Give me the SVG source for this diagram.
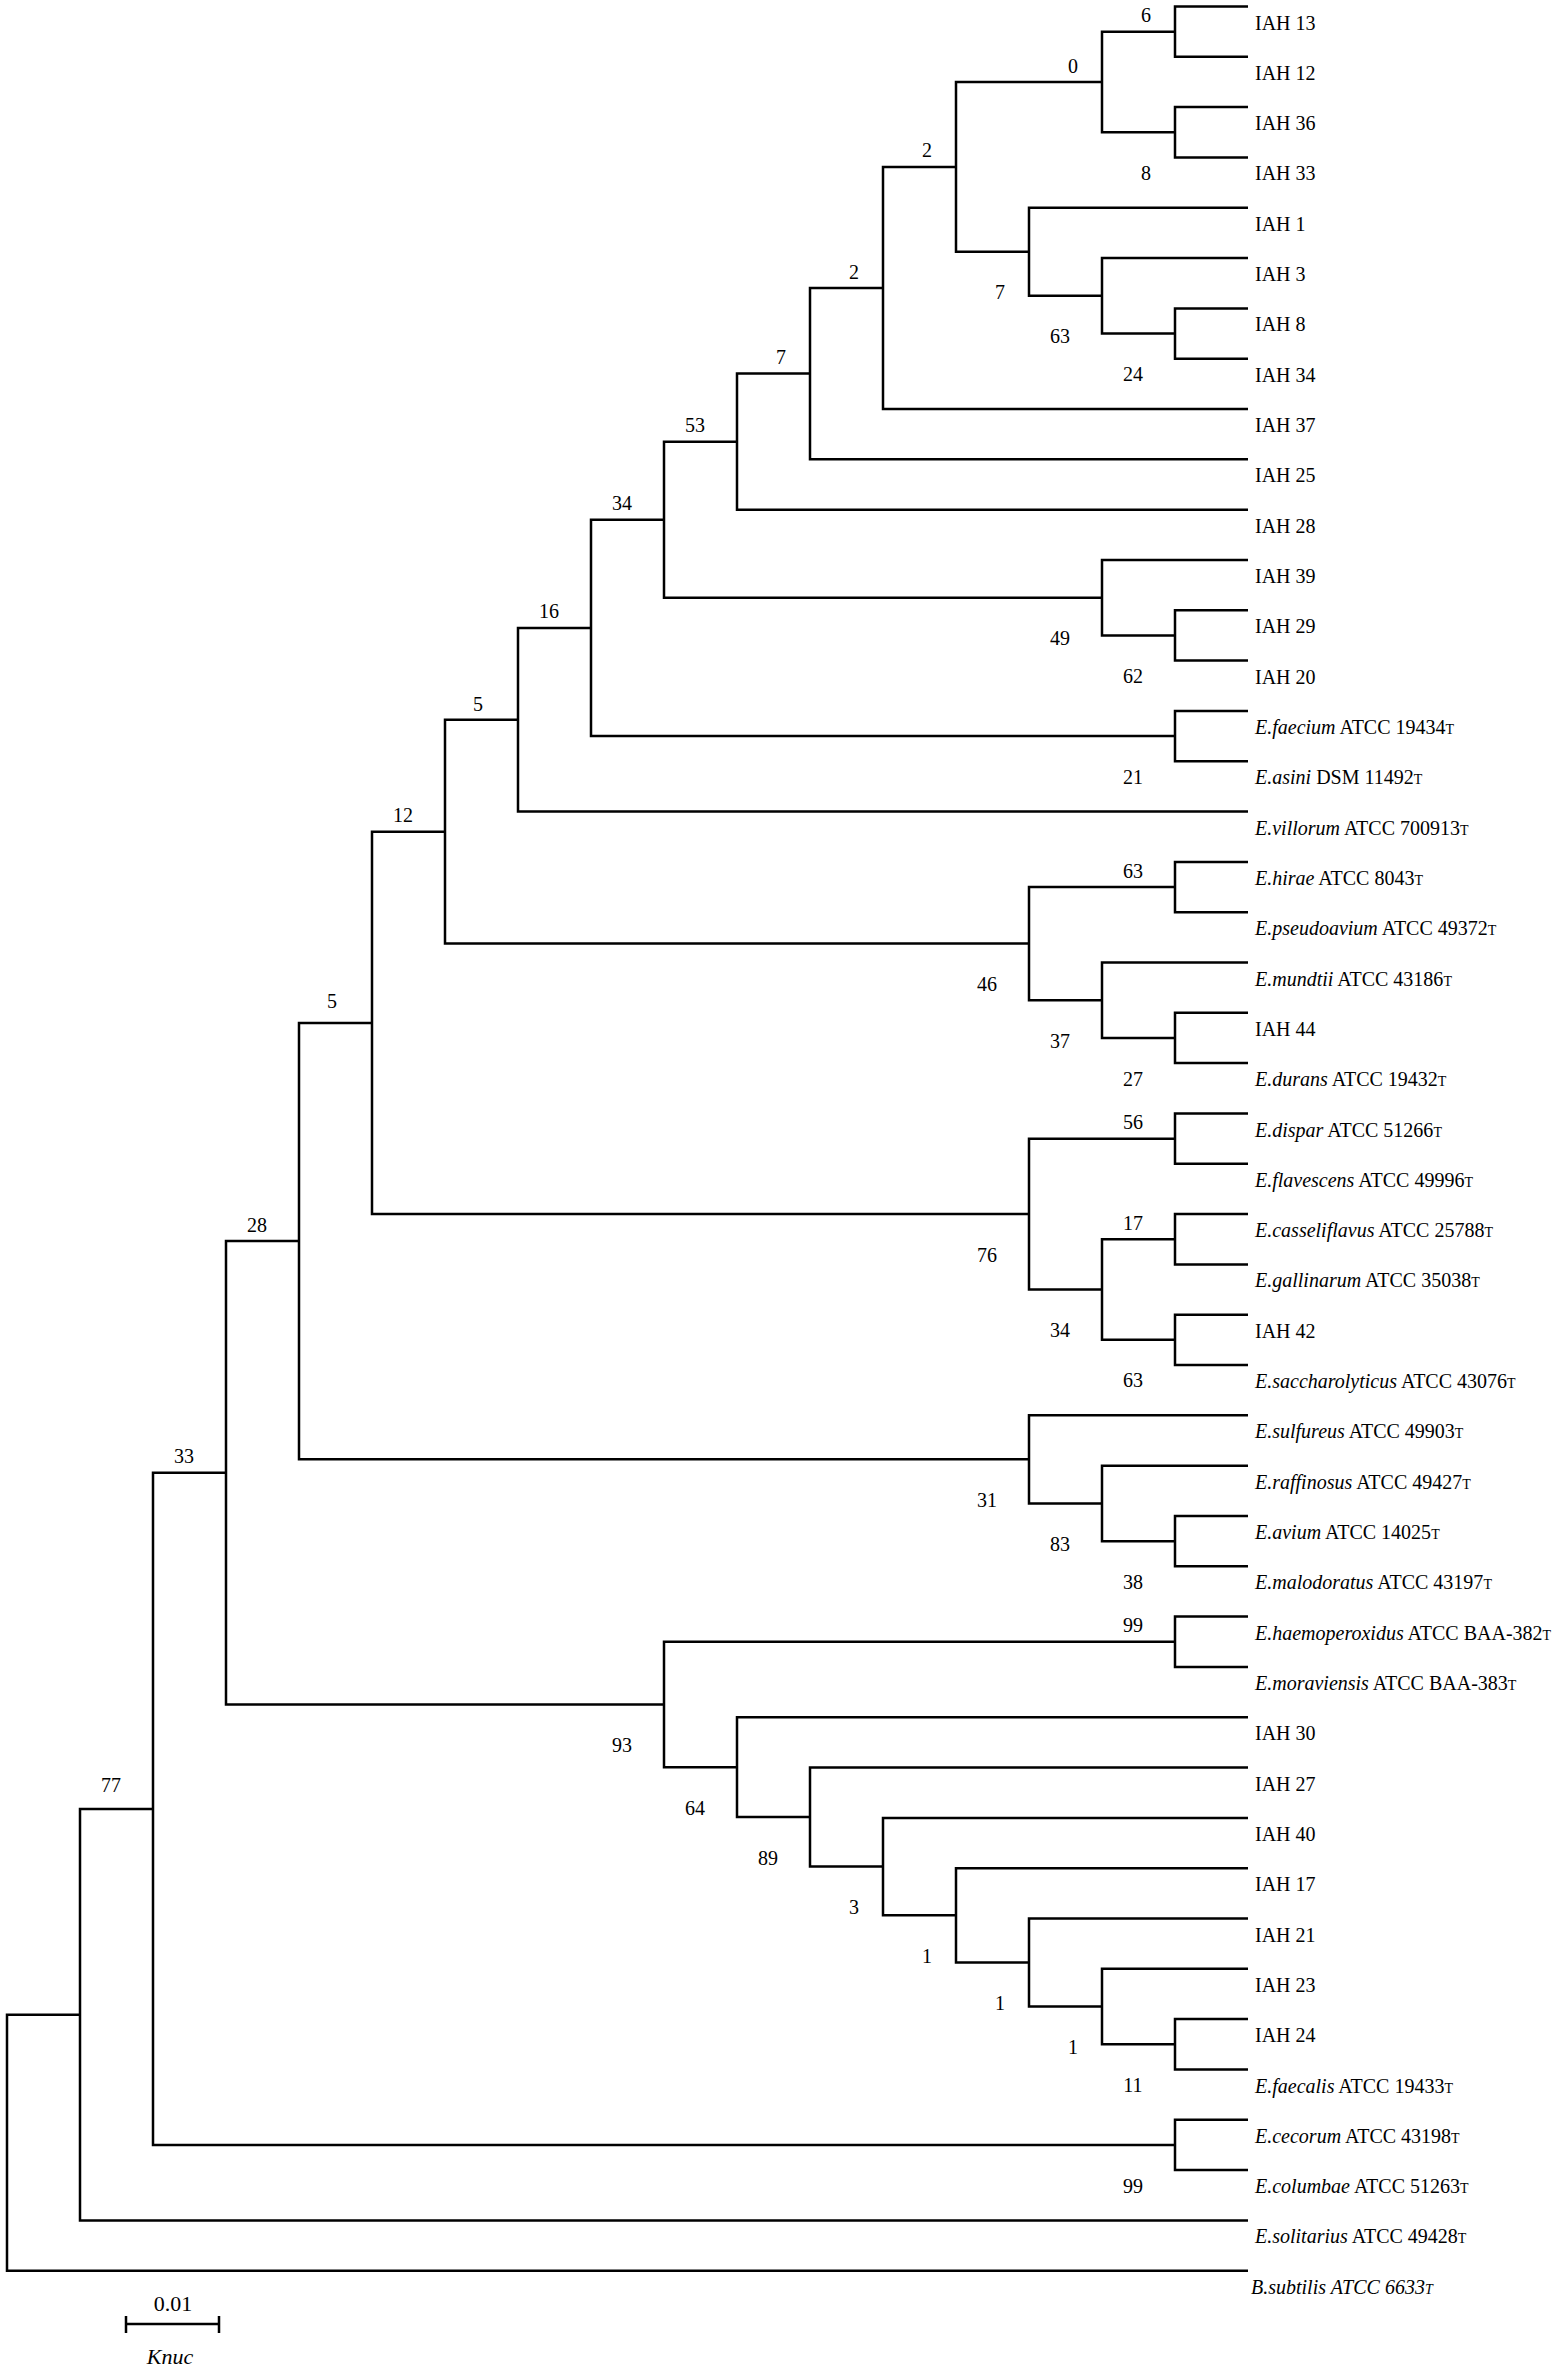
<svg xmlns="http://www.w3.org/2000/svg" width="1559" height="2370" viewBox="0 0 1559 2370">
<style>
.br{fill:none;stroke:#000;stroke-width:2.5;stroke-linejoin:miter}
text{font-family:"Liberation Serif","Times New Roman",serif;font-size:20px;fill:#000}
.bs{text-anchor:middle}
.i{font-style:italic}
.t{font-size:14px}
.sc{font-size:22px}
</style>
<rect width="1559" height="2370" fill="#fff"/>
<g id="connectors">
<path class="br" d="M1248 6.5H1175V56.8H1248"/>
<path class="br" d="M1248 107.1H1175V157.4H1248"/>
<path class="br" d="M1175 31.65H1102V132.25H1175"/>
<path class="br" d="M1248 308.4H1175V358.7H1248"/>
<path class="br" d="M1248 258.1H1102V333.55H1175"/>
<path class="br" d="M1248 207.8H1029V295.8H1102"/>
<path class="br" d="M1102 81.95H956V251.8H1029"/>
<path class="br" d="M956 166.9H883V409H1248"/>
<path class="br" d="M883 287.95H810V459.3H1248"/>
<path class="br" d="M810 373.6H737V509.7H1248"/>
<path class="br" d="M1248 610.3H1175V660.6H1248"/>
<path class="br" d="M1248 560H1102V635.45H1175"/>
<path class="br" d="M737 441.65H664V597.7H1102"/>
<path class="br" d="M1248 710.9H1175V761.2H1248"/>
<path class="br" d="M664 519.7H591V736.05H1175"/>
<path class="br" d="M591 627.9H518V811.6H1248"/>
<path class="br" d="M1248 861.9H1175V912.2H1248"/>
<path class="br" d="M1248 1012.8H1175V1063.1H1248"/>
<path class="br" d="M1248 962.5H1102V1037.95H1175"/>
<path class="br" d="M1175 887.05H1029V1000.2H1102"/>
<path class="br" d="M518 719.75H445V943.6H1029"/>
<path class="br" d="M1248 1113.5H1175V1163.8H1248"/>
<path class="br" d="M1248 1214.1H1175V1264.4H1248"/>
<path class="br" d="M1248 1314.7H1175V1365H1248"/>
<path class="br" d="M1175 1239.25H1102V1339.85H1175"/>
<path class="br" d="M1175 1138.65H1029V1289.55H1102"/>
<path class="br" d="M445 831.7H372V1214.1H1029"/>
<path class="br" d="M1248 1516H1175V1566.3H1248"/>
<path class="br" d="M1248 1465.7H1102V1541.15H1175"/>
<path class="br" d="M1248 1415.3H1029V1503.4H1102"/>
<path class="br" d="M372 1022.9H299V1459.35H1029"/>
<path class="br" d="M1248 1616.6H1175V1666.9H1248"/>
<path class="br" d="M1248 2019.1H1175V2069.5H1248"/>
<path class="br" d="M1248 1968.8H1102V2044.3H1175"/>
<path class="br" d="M1248 1918.5H1029V2006.55H1102"/>
<path class="br" d="M1248 1868.2H956V1962.5H1029"/>
<path class="br" d="M1248 1817.9H883V1915.35H956"/>
<path class="br" d="M1248 1767.6H810V1866.6H883"/>
<path class="br" d="M1248 1717.2H737V1817.1H810"/>
<path class="br" d="M1175 1641.75H664V1767.15H737"/>
<path class="br" d="M299 1241.1H226V1704.45H664"/>
<path class="br" d="M1248 2119.8H1175V2170.1H1248"/>
<path class="br" d="M226 1472.8H153V2144.95H1175"/>
<path class="br" d="M153 1808.9H80V2220.4H1248"/>
<path class="br" d="M80 2014.65H7V2270.7H1248"/>
</g>
<g id="bootstrap" class="bs">
<text x="1146" y="22.2">6</text>
<text x="1146" y="179.8">8</text>
<text x="1073" y="72.5">0</text>
<text x="1000" y="299.3">7</text>
<text x="1060" y="343.3">63</text>
<text x="1133" y="381">24</text>
<text x="927" y="157.4">2</text>
<text x="854" y="278.5">2</text>
<text x="781" y="364.1">7</text>
<text x="695" y="432.2">53</text>
<text x="622" y="510.2">34</text>
<text x="1060" y="645.2">49</text>
<text x="1133" y="683">62</text>
<text x="549" y="618.4">16</text>
<text x="1133" y="783.6">21</text>
<text x="478" y="710.5">5</text>
<text x="403" y="822.2">12</text>
<text x="1133" y="877.6">63</text>
<text x="987" y="991.1">46</text>
<text x="1060" y="1047.7">37</text>
<text x="1133" y="1085.5">27</text>
<text x="332" y="1008">5</text>
<text x="1133" y="1129.2">56</text>
<text x="987" y="1261.6">76</text>
<text x="1060" y="1337.1">34</text>
<text x="1133" y="1229.8">17</text>
<text x="1133" y="1387.4">63</text>
<text x="257" y="1231.6">28</text>
<text x="987" y="1506.9">31</text>
<text x="1060" y="1550.9">83</text>
<text x="1133" y="1588.7">38</text>
<text x="184" y="1463.3">33</text>
<text x="1133" y="1632.3">99</text>
<text x="622" y="1752">93</text>
<text x="695" y="1814.7">64</text>
<text x="768" y="1864.6">89</text>
<text x="854" y="1914.1">3</text>
<text x="927" y="1962.9">1</text>
<text x="1000" y="2010">1</text>
<text x="1073" y="2054.1">1</text>
<text x="1133" y="2091.8">11</text>
<text x="111" y="1792">77</text>
<text x="1133" y="2192.5">99</text>
</g>
<g id="leaf-IAH13"><text x="1255" y="29.5">IAH 13</text></g>
<g id="leaf-IAH12"><text x="1255" y="79.8">IAH 12</text></g>
<g id="leaf-IAH36"><text x="1255" y="130.1">IAH 36</text></g>
<g id="leaf-IAH33"><text x="1255" y="180.4">IAH 33</text></g>
<g id="leaf-IAH1"><text x="1255" y="230.8">IAH 1</text></g>
<g id="leaf-IAH3"><text x="1255" y="281.1">IAH 3</text></g>
<g id="leaf-IAH8"><text x="1255" y="331.4">IAH 8</text></g>
<g id="leaf-IAH34"><text x="1255" y="381.7">IAH 34</text></g>
<g id="leaf-IAH37"><text x="1255" y="432">IAH 37</text></g>
<g id="leaf-IAH25"><text x="1255" y="482.3">IAH 25</text></g>
<g id="leaf-IAH28"><text x="1255" y="532.7">IAH 28</text></g>
<g id="leaf-IAH39"><text x="1255" y="583">IAH 39</text></g>
<g id="leaf-IAH29"><text x="1255" y="633.3">IAH 29</text></g>
<g id="leaf-IAH20"><text x="1255" y="683.6">IAH 20</text></g>
<g id="leaf-faecium"><text x="1255" y="733.9"><tspan class="i">E.faecium</tspan> ATCC 19434<tspan class="t">T</tspan></text></g>
<g id="leaf-asini"><text x="1255" y="784.2"><tspan class="i">E.asini</tspan> DSM 11492<tspan class="t">T</tspan></text></g>
<g id="leaf-villorum"><text x="1255" y="834.6"><tspan class="i">E.villorum</tspan> ATCC 700913<tspan class="t">T</tspan></text></g>
<g id="leaf-hirae"><text x="1255" y="884.9"><tspan class="i">E.hirae</tspan> ATCC 8043<tspan class="t">T</tspan></text></g>
<g id="leaf-pseudoavium"><text x="1255" y="935.2"><tspan class="i">E.pseudoavium</tspan> ATCC 49372<tspan class="t">T</tspan></text></g>
<g id="leaf-mundtii"><text x="1255" y="985.5"><tspan class="i">E.mundtii</tspan> ATCC 43186<tspan class="t">T</tspan></text></g>
<g id="leaf-IAH44"><text x="1255" y="1035.8">IAH 44</text></g>
<g id="leaf-durans"><text x="1255" y="1086.1"><tspan class="i">E.durans</tspan> ATCC 19432<tspan class="t">T</tspan></text></g>
<g id="leaf-dispar"><text x="1255" y="1136.5"><tspan class="i">E.dispar</tspan> ATCC 51266<tspan class="t">T</tspan></text></g>
<g id="leaf-flavescens"><text x="1255" y="1186.8"><tspan class="i">E.flavescens</tspan> ATCC 49996<tspan class="t">T</tspan></text></g>
<g id="leaf-casseliflavus"><text x="1255" y="1237.1"><tspan class="i">E.casseliflavus</tspan> ATCC 25788<tspan class="t">T</tspan></text></g>
<g id="leaf-gallinarum"><text x="1255" y="1287.4"><tspan class="i">E.gallinarum</tspan> ATCC 35038<tspan class="t">T</tspan></text></g>
<g id="leaf-IAH42"><text x="1255" y="1337.7">IAH 42</text></g>
<g id="leaf-saccharolyticus"><text x="1255" y="1388"><tspan class="i">E.saccharolyticus</tspan> ATCC 43076<tspan class="t">T</tspan></text></g>
<g id="leaf-sulfureus"><text x="1255" y="1438.3"><tspan class="i">E.sulfureus</tspan> ATCC 49903<tspan class="t">T</tspan></text></g>
<g id="leaf-raffinosus"><text x="1255" y="1488.7"><tspan class="i">E.raffinosus</tspan> ATCC 49427<tspan class="t">T</tspan></text></g>
<g id="leaf-avium"><text x="1255" y="1539"><tspan class="i">E.avium</tspan> ATCC 14025<tspan class="t">T</tspan></text></g>
<g id="leaf-malodoratus"><text x="1255" y="1589.3"><tspan class="i">E.malodoratus</tspan> ATCC 43197<tspan class="t">T</tspan></text></g>
<g id="leaf-haemoperoxidus"><text x="1255" y="1639.6"><tspan class="i">E.haemoperoxidus</tspan> ATCC BAA-382<tspan class="t">T</tspan></text></g>
<g id="leaf-moraviensis"><text x="1255" y="1689.9"><tspan class="i">E.moraviensis</tspan> ATCC BAA-383<tspan class="t">T</tspan></text></g>
<g id="leaf-IAH30"><text x="1255" y="1740.2">IAH 30</text></g>
<g id="leaf-IAH27"><text x="1255" y="1790.6">IAH 27</text></g>
<g id="leaf-IAH40"><text x="1255" y="1840.9">IAH 40</text></g>
<g id="leaf-IAH17"><text x="1255" y="1891.2">IAH 17</text></g>
<g id="leaf-IAH21"><text x="1255" y="1941.5">IAH 21</text></g>
<g id="leaf-IAH23"><text x="1255" y="1991.8">IAH 23</text></g>
<g id="leaf-IAH24"><text x="1255" y="2042.1">IAH 24</text></g>
<g id="leaf-faecalis"><text x="1255" y="2092.5"><tspan class="i">E.faecalis</tspan> ATCC 19433<tspan class="t">T</tspan></text></g>
<g id="leaf-cecorum"><text x="1255" y="2142.8"><tspan class="i">E.cecorum</tspan> ATCC 43198<tspan class="t">T</tspan></text></g>
<g id="leaf-columbae"><text x="1255" y="2193.1"><tspan class="i">E.columbae</tspan> ATCC 51263<tspan class="t">T</tspan></text></g>
<g id="leaf-solitarius"><text x="1255" y="2243.4"><tspan class="i">E.solitarius</tspan> ATCC 49428<tspan class="t">T</tspan></text></g>
<g id="leaf-subtilis"><text x="1251" y="2293.7" class="i">B.subtilis ATCC 6633<tspan class="t">T</tspan></text></g>
<g id="scale-bar">
<path class="br" d="M126 2324H219M126 2316V2333M219 2316V2333" stroke-width="2.2"/>
<text x="173" y="2311" class="bs sc">0.01</text>
<text x="170" y="2364" class="bs i sc">Knuc</text>
</g>
</svg>
